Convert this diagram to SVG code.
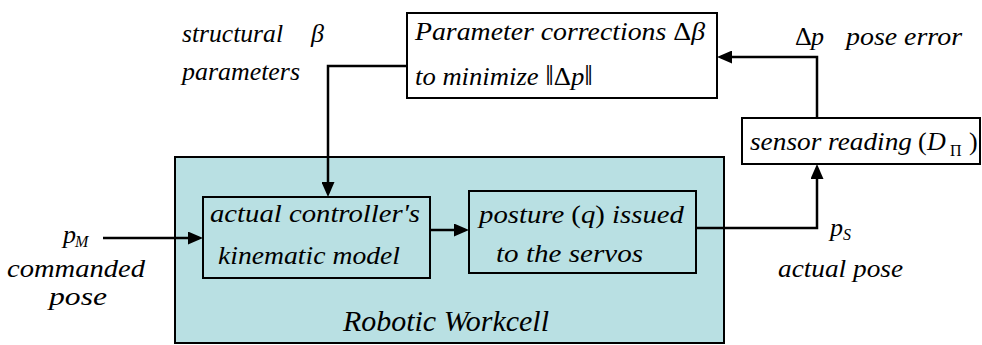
<svg xmlns="http://www.w3.org/2000/svg" width="982" height="345" viewBox="0 0 982 345">
<defs>
<style>
.t { font-family: "Liberation Serif", "Times New Roman", serif; font-style: italic; font-size: 26px; fill: #000; }
.u { font-style: normal; }
.sub { font-size: 16px; }
.box { fill: none; stroke: #000; stroke-width: 2; }
.wbox { fill: #fff; stroke: #000; stroke-width: 2; }
.conn { fill: none; stroke: #000; stroke-width: 2.5; }
</style>
<marker id="ah" markerUnits="userSpaceOnUse" markerWidth="15" markerHeight="13" refX="11" refY="6.5" orient="auto" viewBox="0 0 15 13">
<path d="M0,0 L15,6.5 L0,13 Z" fill="#000"/>
</marker>
</defs>
<rect width="982" height="345" fill="#fff"/>

<g id="workcell">
<rect x="175" y="157" width="549" height="186" fill="#B9E0E3" stroke="#000" stroke-width="2"/>
<text class="t" x="343" y="331" style="font-size:29px" textLength="206" lengthAdjust="spacingAndGlyphs">Robotic Workcell</text>
</g>

<g id="kinematic-model">
<rect class="box" x="203" y="197" width="227" height="81"/>
<text class="t" x="210" y="222" textLength="210" lengthAdjust="spacingAndGlyphs">actual controller's</text>
<text class="t" x="218" y="264" textLength="182" lengthAdjust="spacingAndGlyphs">kinematic model</text>
</g>

<g id="posture">
<rect class="box" x="469" y="191" width="227" height="82"/>
<text class="t" x="479" y="223" textLength="205" lengthAdjust="spacingAndGlyphs">posture <tspan class="u">(</tspan>q<tspan class="u">)</tspan> issued</text>
<text class="t" x="496" y="262" textLength="147" lengthAdjust="spacingAndGlyphs">to the servos</text>
</g>

<g id="parameter-corrections">
<rect class="wbox" x="407" y="13" width="310" height="85"/>
<text class="t" x="415" y="40" textLength="290" lengthAdjust="spacingAndGlyphs">Parameter corrections <tspan class="u">Δ</tspan>β</text>
<text class="t" x="415" y="85" textLength="178" lengthAdjust="spacingAndGlyphs">to minimize <tspan class="u" style="font-size:30px">‖</tspan><tspan class="u">Δ</tspan>p<tspan class="u" style="font-size:30px">‖</tspan></text>
</g>

<g id="sensor-reading">
<rect class="wbox" x="742" y="118" width="238" height="46"/>
<text class="t" x="750" y="150" textLength="162" lengthAdjust="spacingAndGlyphs">sensor reading</text>
<text class="t u" x="918" y="150">(</text>
<text class="t" x="927" y="150">D</text>
<text class="t u sub" x="950" y="156">Π</text>
<text class="t u" x="969" y="150">)</text>
</g>

<g id="labels">
<text class="t" x="182" y="42" textLength="101" lengthAdjust="spacingAndGlyphs">structural</text>
<text class="t" x="311" y="42">β</text>
<text class="t" x="182" y="80" textLength="118" lengthAdjust="spacingAndGlyphs">parameters</text>
<text class="t u" x="795" y="45">Δ</text>
<text class="t" x="811" y="45">p</text>
<text class="t" x="846" y="45" textLength="116" lengthAdjust="spacingAndGlyphs">pose error</text>
<text class="t" x="63" y="243">p</text>
<text class="t sub" x="75" y="247">M</text>
<text class="t" x="7" y="277" textLength="138" lengthAdjust="spacingAndGlyphs">commanded</text>
<text class="t" x="49" y="305" textLength="58" lengthAdjust="spacingAndGlyphs">pose</text>
<text class="t" x="830" y="236">p</text>
<text class="t sub" x="843" y="240">S</text>
<text class="t" x="778" y="277" textLength="125" lengthAdjust="spacingAndGlyphs">actual pose</text>
</g>

<g id="connectors">
<path class="conn" d="M407 66 H328 V193" marker-end="url(#ah)"/>
<path class="conn" d="M103 238 H199" marker-end="url(#ah)"/>
<path class="conn" d="M430 230 H465" marker-end="url(#ah)"/>
<path class="conn" d="M696 228 H817 V168" marker-end="url(#ah)"/>
<path class="conn" d="M817 118 V57 H721" marker-end="url(#ah)"/>
</g>
</svg>
